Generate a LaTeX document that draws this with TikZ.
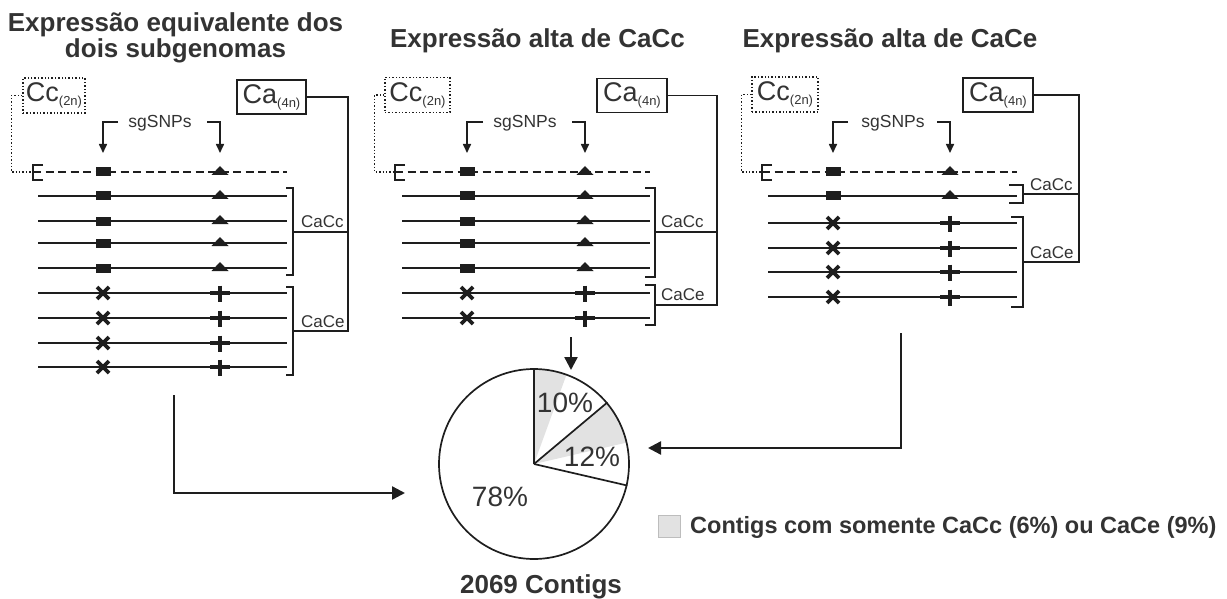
\documentclass[tikz,border=0pt]{standalone}
\usepackage{fontspec}
\setmainfont{Liberation Sans}
\usetikzlibrary{arrows.meta}
\definecolor{ink}{HTML}{1E1E1E}
\definecolor{txt}{HTML}{333333}
\definecolor{piegray}{HTML}{E2E2E2}
\definecolor{leggray}{HTML}{BDBDBD}
\newcommand{\mybxlbl}[2]{{\fontsize{27}{27}\selectfont #1}{\fontsize{13}{13}\selectfont\raisebox{-4pt}{(#2)}}}
\tikzset{
  mksq/.pic={\fill[ink] (-7.5,-4.5) rectangle (7.5,4.5);},
  mktri/.pic={\fill[ink] (-8.5,3) -- (8.5,3) -- (0,-6) -- cycle;},
  mkx/.pic={\draw[ink,line width=3.6pt] (-6,-6) -- (6,6) (-6,6) -- (6,-6);},
  mkplus/.pic={\draw[ink,line width=3.6pt] (-10,0) -- (10,0) (0,-7.5) -- (0,9);},
}
\begin{document}
\begin{tikzpicture}[x=1pt,y=-1pt,
  title/.style={font=\fontsize{26}{30}\selectfont\bfseries, text=txt, inner sep=0, anchor=base},
  ccbox/.style={draw=ink, dotted, line width=1.4pt, inner sep=0, minimum height=35, text=txt},
  cabox/.style={draw=ink, line width=1.4pt, inner sep=0, minimum height=34, text=txt},
  sgtext/.style={font=\fontsize{17.5}{20}\selectfont, text=txt, inner sep=0},
  glabel/.style={font=\fontsize{17}{20}\selectfont, text=txt, inner sep=0, anchor=base west},
  seq/.style={ink, line width=2.3pt},
  dseq/.style={ink, line width=2.3pt, dash pattern=on 8pt off 4.5pt},
  brk/.style={ink, line width=2.3pt},
  conn/.style={ink, line width=1.7pt},
  dotconn/.style={ink, line width=1.4pt, dotted},
  snparr/.style={ink, line width=1.6pt, -{Triangle[length=9pt,width=8pt]}},
  bigarr/.style={ink, line width=2.4pt, -{Triangle[length=13pt,width=13pt]}},
  pct/.style={font=\fontsize{28}{30}\selectfont, text=txt, inner sep=0},
]
\useasboundingbox (0,0) rectangle (1227,599);

% ---------- titles
\node[title] (t1a) at (175.5,32) {Expressão equivalente dos};
\node[title] (t1b) at (175.5,58) {dois subgenomas};
\node[title] (t2) at (537.5,48) {Expressão alta de CaCc};
\node[title] (t3) at (890,48) {Expressão alta de CaCe};

% ---------- panel 1
\node[ccbox, minimum width=62] (p1cc) at (54,95.5) {\mybxlbl{Cc}{2n}};
\node[cabox, minimum width=69] (p1ca) at (271.5,97) {\mybxlbl{Ca}{4n}};
\node[sgtext] (p1sg) at (160,123) {sgSNPs};
\coordinate (p1brk) at (33,172);
\draw[dotconn] (p1cc.west) -- ++(-11,0) |- (p1brk);
\draw[brk] (43,165) -- (33,165) -- (33,180) -- (43,180);
\draw[dseq] (p1brk) -- (287,172);
\foreach \y in {196,221,243,268,293,318,343,367} \draw[seq] (38,\y) -- (287,\y);
\foreach \y in {172,196,221,243,268} {\pic at (103,\y) {mksq}; \pic at (220,\y) {mktri};}
\foreach \y in {293,318,343,367} {\pic at (103,\y) {mkx}; \pic at (220,\y) {mkplus};}
\coordinate (p1sl) at (118,122); \coordinate (p1sld) at (103,153);
\coordinate (p1sr) at (207,122); \coordinate (p1srd) at (220,153);
\draw[snparr] (p1sl) -| (p1sld);
\draw[snparr] (p1sr) -| (p1srd);
\draw[brk] (286,188) -- (293,188) -- (293,275) -- (286,275);
\draw[brk] (286,287) -- (293,287) -- (293,375) -- (286,375);
\coordinate (p1mc) at (293,232); \coordinate (p1me) at (293,331);
\coordinate (p1vc) at (348,232); \coordinate (p1ve) at (348,331);
\draw[conn] (p1ca.east) -| (p1ve) -- (p1me);
\draw[conn] (p1mc) -- (p1vc);
\node[glabel] (p1lc) at (301,227) {CaCc};
\node[glabel] (p1le) at (301,327) {CaCe};

% ---------- panel 2
\node[ccbox, minimum width=65] (p2cc) at (417.5,95) {\mybxlbl{Cc}{2n}};
\node[cabox, minimum width=70] (p2ca) at (632,95.5) {\mybxlbl{Ca}{4n}};
\node[sgtext] (p2sg) at (525,123) {sgSNPs};
\coordinate (p2brk) at (395,172);
\draw[dotconn] (p2cc.west) -- ++(-10,0) |- (p2brk);
\draw[brk] (405,165) -- (395,165) -- (395,180) -- (405,180);
\draw[dseq] (p2brk) -- (650,172);
\foreach \y in {196,221,243,268,293,318} \draw[seq] (402,\y) -- (650,\y);
\foreach \y in {172,196,221,243,268} {\pic at (467,\y) {mksq}; \pic at (585,\y) {mktri};}
\foreach \y in {293,318} {\pic at (467,\y) {mkx}; \pic at (585,\y) {mkplus};}
\coordinate (p2sl) at (483,122); \coordinate (p2sld) at (467,153);
\coordinate (p2sr) at (572,122); \coordinate (p2srd) at (585,153);
\draw[snparr] (p2sl) -| (p2sld);
\draw[snparr] (p2sr) -| (p2srd);
\draw[brk] (645,188) -- (655,188) -- (655,277) -- (645,277);
\draw[brk] (645,285) -- (655,285) -- (655,325) -- (645,325);
\coordinate (p2mc) at (655,232); \coordinate (p2me) at (655,305);
\coordinate (p2vc) at (717,232); \coordinate (p2ve) at (717,305);
\draw[conn] (p2ca.east) -| (p2ve) -- (p2me);
\draw[conn] (p2mc) -- (p2vc);
\node[glabel] (p2lc) at (661,227) {CaCc};
\node[glabel] (p2le) at (661,300) {CaCe};

% ---------- panel 3
\node[ccbox, minimum width=66] (p3cc) at (785,94.5) {\mybxlbl{Cc}{2n}};
\node[cabox, minimum width=70] (p3ca) at (998,95) {\mybxlbl{Ca}{4n}};
\node[sgtext] (p3sg) at (893,123) {sgSNPs};
\coordinate (p3brk) at (762,172);
\draw[dotconn] (p3cc.west) -- ++(-10,0) |- (p3brk);
\draw[brk] (772,165) -- (762,165) -- (762,180) -- (772,180);
\draw[dseq] (p3brk) -- (1017,172);
\foreach \y in {196,223,248,272,297} \draw[seq] (768,\y) -- (1017,\y);
\foreach \y in {172,196} {\pic at (833,\y) {mksq}; \pic at (950,\y) {mktri};}
\foreach \y in {223,248,272,297} {\pic at (833,\y) {mkx}; \pic at (950,\y) {mkplus};}
\coordinate (p3sl) at (848,122); \coordinate (p3sld) at (833,153);
\coordinate (p3sr) at (937,122); \coordinate (p3srd) at (950,153);
\draw[snparr] (p3sl) -| (p3sld);
\draw[snparr] (p3sr) -| (p3srd);
\draw[brk] (1009,185) -- (1023,185) -- (1023,203) -- (1009,203);
\draw[brk] (1011,217) -- (1023,217) -- (1023,307) -- (1011,307);
\coordinate (p3mc) at (1023,194); \coordinate (p3me) at (1023,262);
\coordinate (p3vc) at (1079,194); \coordinate (p3ve) at (1079,262);
\draw[conn] (p3ca.east) -| (p3ve) -- (p3me);
\draw[conn] (p3mc) -- (p3vc);
\node[glabel] (p3lc) at (1030,190) {CaCc};
\node[glabel] (p3le) at (1030,258) {CaCe};

% ---------- pie
\fill[piegray] (534,464) -- plot[domain=70:90,samples=25] ({534+95*cos(\x)},{464-95*sin(\x)}) -- cycle;
\fill[piegray] (534,464) -- plot[domain=13:40,samples=25] ({534+95*cos(\x)},{464-95*sin(\x)}) -- cycle;
\node[circle, draw=ink, line width=1.7pt, minimum size=190, inner sep=0] (pie) at (534,464) {};
\draw[conn] (pie.center) -- (pie.90);
\draw[conn] (pie.center) -- (pie.40);
\draw[conn] (pie.center) -- (pie.-13);
\node[pct] (l10) at (565,403) {10\%};
\node[pct] (l12) at (592,457) {12\%};
\node[pct] (l78) at (500,497) {78\%};
\node[title] (cnt) at (541,593) {2069 Contigs};

% ---------- arrows to pie
\coordinate (a1s) at (174,395); \coordinate (a1e) at (405,493);
\draw[bigarr] (a1s) |- (a1e);
\coordinate (a2s) at (571,337); \coordinate (a2e) at (571,370);
\draw[bigarr] (a2s) -- (a2e);
\coordinate (a3s) at (901,333); \coordinate (a3e) at (648,448);
\draw[bigarr] (a3s) |- (a3e);

% ---------- legend
\node[draw=leggray, fill=piegray, line width=1pt, minimum width=22, minimum height=22, inner sep=0] (lgbox) at (669,526.5) {};
\node[font=\fontsize{23.5}{26}\selectfont\bfseries, text=txt, anchor=west, inner sep=0] (lgtxt) at (690,527) {Contigs com somente CaCc (6\%) ou CaCe (9\%)};
\end{tikzpicture}
\end{document}
